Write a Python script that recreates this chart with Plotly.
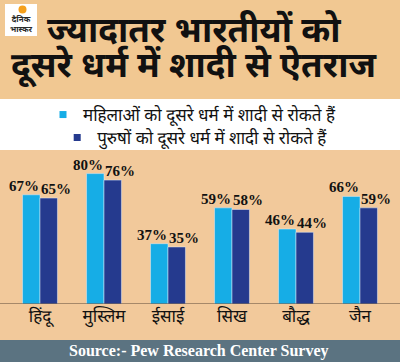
import plotly.graph_objects as go

categories = ["हिंदू", "मुस्लिम", "ईसाई", "सिख", "बौद्ध", "जैन"]
women = [67, 80, 37, 59, 46, 66]
men = [65, 76, 35, 58, 44, 59]
series_names = ["महिलाओं को दूसरे धर्म में शादी से रोकते हैं",
                "पुरुषों को दूसरे धर्म में शादी से रोकते हैं"]
title_lines = ["ज्यादातर भारतीयों को", "दूसरे धर्म में शादी से ऐतराज"]
source_text = "Source:- Pew Research Center Survey"

LIGHT = "#16ade6"
DARK = "#253a8e"
DEV = "Noto Sans Devanagari, Lohit Devanagari, Mukta, FreeSans, sans-serif"
SERIF = "Liberation Serif, Times New Roman, serif"
H = 362.0

def py(px):
    return (H - px) / H

fig = go.Figure()
fig.add_trace(go.Bar(x=categories, y=women, marker_color=LIGHT, showlegend=False, name=series_names[0]))
fig.add_trace(go.Bar(x=categories, y=men, marker_color=DARK, showlegend=False, name=series_names[1]))
fig.add_trace(go.Scatter(x=[None], y=[None], mode="markers", name=series_names[0],
                         marker=dict(symbol="square", size=7, color=LIGHT), legend="legend"))
fig.add_trace(go.Scatter(x=[None], y=[None], mode="markers", name=series_names[1],
                         marker=dict(symbol="square", size=7, color=DARK), legend="legend2"))

annotations = []
for i, (w, m) in enumerate(zip(women, men)):
    annotations.append(dict(x=i, y=w, xref="x", yref="y", text=f"{w}%", showarrow=False,
                            xshift=-16, yanchor="bottom", yshift=-1,
                            font=dict(family=SERIF, size=15, color="#111111", weight="bold")))
    annotations.append(dict(x=i, y=m, xref="x", yref="y", text=f"{m}%", showarrow=False,
                            xshift=16, yanchor="bottom", yshift=-1,
                            font=dict(family=SERIF, size=15, color="#111111", weight="bold")))

annotations.append(dict(x=194 / 400, y=py(33), xref="paper", yref="paper", text=title_lines[0],
                        showarrow=False, xanchor="center", yanchor="middle",
                        font=dict(family=DEV, size=35, color="#111111", weight="bold")))
annotations.append(dict(x=194 / 400, y=py(68), xref="paper", yref="paper", text=title_lines[1],
                        showarrow=False, xanchor="center", yanchor="middle",
                        font=dict(family=DEV, size=35, color="#111111", weight="bold")))
annotations.append(dict(x=199 / 400, y=py(351), xref="paper", yref="paper", text=source_text,
                        showarrow=False, xanchor="center", yanchor="middle",
                        font=dict(family=SERIF, size=16, color="#ffffff", weight="bold")))
# logo text
annotations.append(dict(x=21 / 400, y=py(25), xref="paper", yref="paper", text="दैनिक<br>भास्कर",
                        showarrow=False, xanchor="center", yanchor="middle",
                        font=dict(family=DEV, size=8, color="#2a2a2a", weight="bold")))

shapes = [
    dict(type="rect", xref="paper", yref="paper", x0=0, x1=1, y0=py(99), y1=1,
         fillcolor="#f1c892", line_width=0, layer="below"),
    dict(type="rect", xref="paper", yref="paper", x0=0, x1=1, y0=py(150), y1=py(99),
         fillcolor="#ffffff", line_width=0, layer="below"),
    dict(type="rect", xref="paper", yref="paper", x0=0, x1=1, y0=0, y1=py(340),
         fillcolor="#5b7381", line_width=0, layer="below"),
    dict(type="rect", xref="paper", yref="paper", x0=5 / 400, x1=37 / 400, y0=py(36), y1=py(4),
         fillcolor="#ffffff", line_width=0, layer="below"),
    dict(type="circle", xref="paper", yref="paper", x0=18.5 / 400, x1=26.5 / 400, y0=py(13.5), y1=py(5.5),
         fillcolor="#f5a01c", line_width=0),
    dict(type="line", xref="paper", yref="y", x0=0, x1=1, y0=0, y1=0,
         line=dict(color="#5a4636", width=1)),
]

fig.update_layout(
    width=400, height=362,
    margin=dict(l=0, r=0, t=0, b=0),
    paper_bgcolor="#f2c99b",
    plot_bgcolor="rgba(0,0,0,0)",
    barmode="group", bargap=0.455, bargroupgap=0,
    xaxis=dict(domain=[7 / 400, 393 / 400], showgrid=False, zeroline=False, showline=False,
               ticks="", tickfont=dict(family=DEV, size=17, color="#111111")),
    yaxis=dict(domain=[py(304), py(141)], range=[0, 100], visible=False),
    legend=dict(x=0.48, xanchor="center", y=py(115), yanchor="middle", bgcolor="rgba(0,0,0,0)",
                font=dict(family=DEV, size=17, color="#111111"), itemwidth=30),
    legend2=dict(x=0.488, xanchor="center", y=py(138), yanchor="middle", bgcolor="rgba(0,0,0,0)",
                 font=dict(family=DEV, size=17, color="#111111"), itemwidth=30),
    shapes=shapes,
    annotations=annotations,
)

fig.write_html("out.html", config={"displayModeBar": False},
               post_script="document.body.style.margin='0';")
